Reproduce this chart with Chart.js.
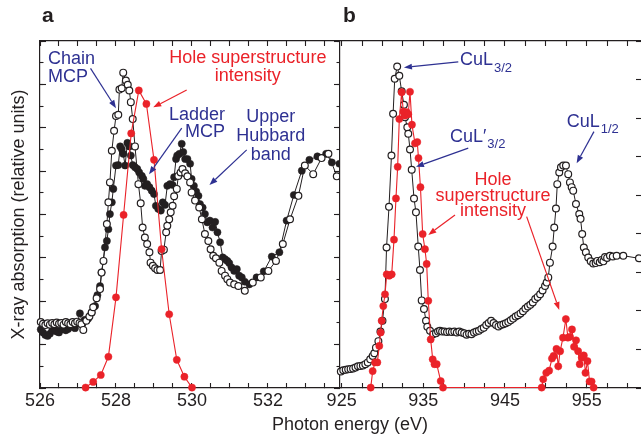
<!DOCTYPE html>
<html>
<head>
<meta charset="utf-8">
<script src="https://cdn.jsdelivr.net/npm/chart.js@4.4.0/dist/chart.umd.min.js"></script>
<style>
  html, body { margin: 0; padding: 0; background: #fff; }
  body { width: 641px; height: 435px; position: relative; overflow: hidden;
         font-family: "Liberation Sans", Arial, sans-serif; color: #231f20; }
  canvas { position: absolute; top: 0; }
  #chartA { left: 0; }
  #chartB { left: 300px; }
  .panel { position: absolute; top: 3px; font-weight: bold; font-size: 21px; }
  #xTitle { position: absolute; left: 272px; top: 414px; font-size: 18px; line-height: 20px; white-space: nowrap; }
</style>
</head>
<body>
<canvas id="chartA" width="340" height="435"></canvas>
<canvas id="chartB" width="341" height="435"></canvas>
<div class="panel" style="left:42px">a</div>
<div class="panel" style="left:343px">b</div>
<div id="xTitle">Photon energy (eV)</div>
<script>
const FONT = '"Liberation Sans", Arial, sans-serif';
const INK = "#231f20";
const RED = "#ea2229";
const BLUE = "#2e3192";

// panel a : O K-edge, open and filled circles, red hole intensity
const aTicks = [526, 528, 530, 532];
const aOpenE = [526.02, 526.08, 526.14, 526.20, 526.26, 526.32, 526.38, 526.44, 526.50, 526.56, 526.62, 526.68, 526.74, 526.80, 526.86, 526.92, 526.98, 527.04, 527.09, 527.14, 527.22, 527.30, 527.36, 527.40, 527.49, 527.58, 527.62, 527.67, 527.76, 527.80, 527.84, 527.89, 527.95, 528.00, 528.06, 528.09, 528.15, 528.19, 528.26, 528.31, 528.35, 528.39, 528.44, 528.50, 528.59, 528.65, 528.70, 528.76, 528.82, 528.88, 528.91, 528.97, 529.03, 529.09, 529.16, 529.20, 529.26, 529.32, 529.35, 529.40, 529.44, 529.49, 529.53, 529.60, 529.64, 529.70, 529.75, 529.82, 529.88, 529.95, 529.99, 530.08, 530.19, 530.26, 530.34, 530.43, 530.49, 530.56, 530.63, 530.72, 530.78, 530.87, 530.93, 531.00, 531.11, 531.22, 531.39, 531.60, 531.81, 532.01, 532.21, 532.39, 532.58, 532.80, 532.97, 533.19, 533.41, 533.59, 533.81];
const aOpenV = [1.02, 0.98, 0.95, 0.99, 0.96, 1.00, 0.97, 1.01, 0.98, 1.00, 0.96, 1.02, 0.99, 0.97, 1.02, 0.99, 1.03, 1.00, 0.97, 0.84, 1.05, 1.15, 1.24, 1.36, 1.57, 1.78, 2.16, 2.43, 3.28, 3.78, 4.24, 4.97, 5.43, 5.77, 5.80, 6.38, 6.41, 6.77, 6.59, 6.49, 6.36, 6.09, 5.70, 5.07, 4.20, 3.76, 3.20, 2.97, 2.82, 2.63, 2.39, 2.32, 2.26, 2.22, 2.22, 2.66, 2.69, 3.09, 3.24, 3.39, 3.55, 3.70, 3.92, 4.09, 4.39, 4.47, 4.55, 4.45, 4.38, 4.24, 4.01, 3.82, 3.66, 3.39, 3.05, 2.89, 2.70, 2.55, 2.49, 2.39, 2.20, 2.09, 2.01, 1.93, 1.89, 1.85, 1.74, 1.93, 2.05, 2.20, 2.43, 2.82, 3.39, 3.93, 4.63, 4.43, 4.80, 4.90, 4.38];
const aFillE = [526.02, 526.08, 526.14, 526.20, 526.26, 526.32, 526.38, 526.44, 526.50, 526.56, 526.62, 526.68, 526.74, 526.80, 526.86, 526.92, 526.98, 527.05, 527.12, 527.18, 527.27, 527.36, 527.45, 527.51, 527.58, 527.62, 527.71, 527.76, 527.80, 527.84, 527.89, 527.93, 528.00, 528.06, 528.11, 528.15, 528.19, 528.24, 528.30, 528.35, 528.39, 528.44, 528.50, 528.56, 528.61, 528.68, 528.72, 528.76, 528.82, 528.88, 528.94, 529.00, 529.05, 529.11, 529.18, 529.23, 529.29, 529.35, 529.42, 529.49, 529.53, 529.58, 529.61, 529.67, 529.73, 529.77, 529.82, 529.88, 529.95, 529.99, 530.05, 530.11, 530.17, 530.21, 530.28, 530.34, 530.40, 530.47, 530.54, 530.61, 530.67, 530.74, 530.81, 530.87, 530.93, 530.98, 531.04, 531.11, 531.18, 531.24, 531.31, 531.39, 531.51, 531.70, 531.89, 532.10, 532.30, 532.49, 532.68, 532.89, 533.09, 533.30, 533.53, 533.68, 533.88];
const aFillV = [0.85, 0.78, 0.72, 0.70, 0.75, 0.82, 0.86, 0.80, 0.78, 0.85, 0.88, 0.83, 0.86, 0.91, 0.93, 0.88, 1.00, 1.22, 0.98, 1.07, 1.10, 1.24, 1.39, 1.64, 1.85, 2.16, 2.74, 2.89, 3.16, 3.51, 3.78, 4.09, 4.63, 4.64, 5.07, 5.01, 4.90, 4.63, 5.15, 5.07, 4.86, 4.64, 4.59, 4.55, 4.47, 4.39, 4.32, 4.16, 4.20, 4.13, 4.05, 3.97, 3.70, 3.63, 3.59, 3.78, 3.72, 4.16, 4.20, 4.18, 4.36, 4.78, 4.86, 4.90, 5.13, 4.94, 4.78, 4.78, 4.67, 4.32, 4.16, 4.03, 3.93, 3.74, 3.66, 3.51, 3.32, 3.36, 3.20, 3.33, 3.09, 2.86, 2.51, 2.47, 2.43, 2.38, 2.28, 2.20, 2.24, 2.09, 2.05, 1.95, 1.89, 2.05, 2.19, 2.53, 2.63, 3.36, 3.95, 4.51, 4.76, 4.84, 4.90, 4.70, 4.67];
const aRedE = [527.2, 527.4, 527.6, 527.8, 528.0, 528.2, 528.4, 528.6, 528.8, 529.0, 529.2, 529.4, 529.6, 529.8, 530.0];
const aRedV = [-0.49, -0.36, -0.20, 0.22, 1.59, 3.49, 5.37, 6.36, 6.05, 4.76, 2.70, 1.20, 0.15, -0.24, -0.49];

// panel b : Cu L-edge
const bTicks = [925, 935, 945, 955];
const bOpenE = [924.9, 925.2, 925.5, 925.8, 926.1, 926.4, 926.7, 927.0, 927.3, 927.6, 927.9, 928.2, 928.5, 928.8, 929.0, 929.2, 929.5, 929.75, 930.0, 930.3, 930.5, 930.8, 931.1, 931.3, 931.5, 931.8, 932.06, 932.35, 932.63, 932.76, 933.04, 933.16, 933.37, 933.58, 933.86, 934.1, 934.38, 934.59, 934.8, 935.08, 935.33, 935.49, 935.82, 936.2, 936.55, 936.8, 937.04, 937.3, 937.6, 937.9, 938.2, 938.5, 938.8, 939.1, 939.4, 939.7, 940.0, 940.3, 940.6, 940.9, 941.2, 941.5, 941.8, 942.1, 942.4, 942.7, 943.0, 943.3, 943.6, 943.9, 944.2, 944.5, 944.8, 945.1, 945.4, 945.7, 946.0, 946.3, 946.6, 946.9, 947.2, 947.5, 947.8, 948.1, 948.4, 948.7, 949.0, 949.3, 949.6, 949.9, 950.1, 950.3, 950.5, 950.83, 951.03, 951.24, 951.4, 951.64, 951.85, 952.13, 952.46, 952.74, 952.95, 953.16, 953.35, 953.69, 954.09, 954.25, 954.45, 954.65, 954.9, 955.19, 955.49, 955.8, 956.1, 956.3, 956.6, 956.83, 957.05, 957.24, 957.5, 957.85, 958.2, 958.67, 959.48, 961.4];
const bOpenV = [-0.12, -0.09, -0.08, -0.07, -0.06, -0.05, -0.03, 0.00, 0.01, 0.02, 0.05, 0.09, 0.16, 0.24, 0.30, 0.43, 0.58, 0.80, 1.05, 1.55, 2.74, 3.68, 4.86, 5.82, 6.63, 6.91, 6.70, 6.34, 6.03, 5.74, 5.51, 5.36, 5.00, 4.53, 3.87, 3.55, 2.76, 2.22, 1.52, 1.32, 1.05, 0.91, 0.82, 0.74, 0.76, 0.80, 0.82, 0.80, 0.80, 0.79, 0.80, 0.79, 0.80, 0.78, 0.80, 0.78, 0.76, 0.73, 0.75, 0.74, 0.78, 0.80, 0.82, 0.86, 0.89, 0.95, 1.00, 1.05, 1.00, 0.95, 0.92, 0.95, 0.97, 0.99, 1.02, 1.06, 1.10, 1.15, 1.18, 1.22, 1.27, 1.33, 1.38, 1.42, 1.47, 1.55, 1.60, 1.66, 1.75, 1.85, 1.93, 2.05, 2.39, 2.76, 3.20, 3.64, 4.20, 4.47, 4.59, 4.63, 4.63, 4.43, 4.24, 4.13, 4.05, 3.74, 3.51, 3.40, 3.05, 2.74, 2.63, 2.51, 2.42, 2.37, 2.38, 2.43, 2.40, 2.45, 2.42, 2.52, 2.50, 2.55, 2.53, 2.55, 2.55, 2.49];
const bRedE = [928.56, 928.80, 929.09, 929.37, 929.61, 929.78, 929.90, 930.10, 930.31, 930.52, 930.83, 931.13, 931.41, 931.65, 931.86, 932.06, 932.35, 932.55, 932.76, 932.96, 933.16, 933.37, 933.61, 933.98, 934.26, 934.41, 934.65, 934.92, 935.20, 935.41, 935.61, 935.90, 936.15, 936.37, 936.64, 937.13, 937.41, 949.49, 949.68, 950.05, 950.40, 950.75, 950.95, 951.30, 951.52, 951.75, 952.10, 952.45, 952.70, 952.95, 953.20, 953.45, 953.70, 953.95, 954.15, 954.40, 954.65, 954.85, 955.10, 955.35, 955.60, 955.85];
const bRedV = [-0.49, -0.11, 0.09, 0.09, 0.47, 0.78, 1.05, 1.39, 1.66, 2.12, 2.09, 2.12, 2.92, 3.87, 4.60, 5.70, 6.32, 5.87, 5.78, 5.86, 5.81, 6.33, 5.57, 5.14, 5.17, 4.80, 4.13, 3.05, 2.70, 2.36, 1.51, 0.62, 0.16, 0.05, 0.05, -0.34, -0.49, -0.49, -0.30, -0.15, -0.10, 0.18, 0.24, 0.40, 0.00, 0.35, 0.66, 1.09, 0.66, 0.68, 0.85, 0.45, 0.60, 0.35, 0.05, 0.20, 0.25, -0.15, 0.12, -0.35, -0.35, -0.49];

// labels and arrows, placed in data units
const notesA = [
  { kind: "text", lines: ["Chain", "MCP"], at: [526.21, 6.98], align: "left", color: BLUE, lh: 18.3 },
  { kind: "arrow", from: [527.33, 6.87], to: [528.0, 5.95], color: BLUE },
  { kind: "text", lines: ["Hole superstructure", "intensity"], at: [531.47, 6.99], align: "center", color: RED, lh: 18 },
  { kind: "arrow", from: [529.86, 6.37], to: [528.98, 5.97], color: RED },
  { kind: "text", lines: ["Ladder", "MCP"], at: [530.87, 5.68], align: "right", color: BLUE, lh: 17 },
  { kind: "arrow", from: [529.73, 5.49], to: [528.87, 4.43], color: BLUE },
  { kind: "text", lines: ["Upper", "Hubbard", "band"], at: [532.07, 5.64], align: "center", color: BLUE, lh: 19 },
  { kind: "arrow", from: [531.44, 4.99], to: [530.46, 4.18], color: BLUE }
];
const notesB = [
  { kind: "sub", main: "CuL", sub: "3/2", at: [939.49, 6.94], color: BLUE },
  { kind: "arrow", from: [939.28, 7.02], to: [932.63, 6.89], color: BLUE },
  { kind: "sub", main: "CuL\u2032", sub: "3/2", at: [938.26, 5.18], color: BLUE },
  { kind: "arrow", from: [940.5, 5.03], to: [934.1, 4.60], color: BLUE },
  { kind: "text", lines: ["Hole", "superstructure", "intensity"], at: [943.53, 4.18], align: "center", color: RED, lh: 15.5 },
  { kind: "arrow", from: [938.88, 3.49], to: [935.61, 3.03], color: RED },
  { kind: "arrow", from: [947.65, 3.45], to: [951.64, 1.30], color: RED },
  { kind: "sub", main: "CuL", sub: "1/2", at: [952.55, 5.52], color: BLUE },
  { kind: "arrow", from: [955.89, 5.41], to: [953.77, 4.68], color: BLUE }
];

Chart.defaults.font.family = FONT;
Chart.defaults.font.size = 18;
Chart.defaults.color = INK;

function series(xs, ys) {
  return xs.map((x, i) => ({ x, y: ys[i] }));
}

function drawArrow(ctx, x1, y1, x2, y2) {
  const a = Math.atan2(y2 - y1, x2 - x1);
  const head = 8, half = 3;
  const bx = x2 - head * Math.cos(a), by = y2 - head * Math.sin(a);
  ctx.lineWidth = 1.2;
  ctx.beginPath();
  ctx.moveTo(x1, y1);
  ctx.lineTo(bx, by);
  ctx.stroke();
  ctx.beginPath();
  ctx.moveTo(x2, y2);
  ctx.lineTo(bx + half * Math.sin(a), by - half * Math.cos(a));
  ctx.lineTo(bx - half * Math.sin(a), by + half * Math.cos(a));
  ctx.closePath();
  ctx.fill();
}

function notesPlugin(items) {
  return {
    id: "notes",
    afterDatasetsDraw(chart) {
      const { ctx } = chart;
      const sx = chart.scales.x, sy = chart.scales.y;
      const px = p => [sx.getPixelForValue(p[0]), sy.getPixelForValue(p[1])];
      ctx.save();
      ctx.textBaseline = "alphabetic";
      items.forEach(it => {
        ctx.fillStyle = it.color;
        ctx.strokeStyle = it.color;
        if (it.kind === "arrow") {
          const [x1, y1] = px(it.from);
          const [x2, y2] = px(it.to);
          drawArrow(ctx, x1, y1, x2, y2);
        } else if (it.kind === "text") {
          const [x, y] = px(it.at);
          ctx.font = `18px ${FONT}`;
          ctx.textAlign = it.align;
          it.lines.forEach((t, i) => ctx.fillText(t, x, y + i * it.lh));
        } else {
          const [x, y] = px(it.at);
          ctx.font = `18px ${FONT}`;
          ctx.textAlign = "left";
          ctx.fillText(it.main, x, y);
          const w = ctx.measureText(it.main).width;
          ctx.font = `13px ${FONT}`;
          ctx.fillText(it.sub, x + w + 1, y + 6.5);
        }
      });
      ctx.restore();
    }
  };
}

// inward tick marks: negative tick length, size of the box fixed in afterFit
function axis(position, min, max, step, len, size, extra = {}) {
  const horizontal = position === "top" || position === "bottom";
  return {
    type: "linear",
    position, min, max,
    weight: extra.weight || 0,
    border: { display: extra.border !== false, color: INK, width: 1.2 },
    grid: { drawOnChartArea: false, drawTicks: len > 0, tickLength: -len, tickColor: INK, tickWidth: 1.1 },
    ticks: {
      stepSize: step,
      includeBounds: false,
      autoSkip: false,
      maxRotation: 0,
      display: !!extra.labels,
      padding: 7,
      color: INK,
      font: { size: 18 },
      callback: v => (extra.labels && extra.labels.includes(v) ? String(v) : "")
    },
    title: extra.title || { display: false },
    afterFit: s => { if (horizontal) s.height = size; else s.width = size; }
  };
}

const baseOptions = {
  responsive: false,
  animation: false,
  events: [],
  layout: { padding: 0, autoPadding: false },
  plugins: { legend: { display: false }, tooltip: { enabled: false } },
  elements: { line: { tension: 0 } }
};

new Chart(document.getElementById("chartA"), {
  type: "line",
  data: {
    datasets: [
      {
        data: series(aRedE, aRedV), order: 0, clip: false,
        borderColor: RED, borderWidth: 1.1,
        pointRadius: 3.6, pointBackgroundColor: RED, pointBorderColor: RED, pointBorderWidth: 0.5
      },
      {
        data: series(aOpenE, aOpenV), order: 1, clip: false,
        borderColor: INK, borderWidth: 1,
        pointRadius: 3.4, pointBackgroundColor: "#fff", pointBorderColor: INK, pointBorderWidth: 1.2
      },
      {
        data: series(aFillE, aFillV), order: 2, clip: false,
        borderColor: INK, borderWidth: 1,
        pointRadius: 3.6, pointBackgroundColor: INK, pointBorderColor: INK, pointBorderWidth: 0.5
      }
    ]
  },
  options: {
    ...baseOptions,
    scales: {
      x: axis("bottom", 526, 533.895, 0.5, 5, 47, { labels: aTicks }),
      xTop: axis("top", 526, 533.895, 0.5, 5, 41),
      y: axis("left", -0.5, 7.5, 1, 6, 40, {
        weight: 2,
        title: { display: true, text: "X-ray absorption (relative units)", color: INK, font: { size: 18 }, padding: { top: 8, bottom: 0 } }
      }),
      yMinor: axis("left", -0.5, 7.5, 0.5, 3.5, 0, { weight: 1, border: false }),
      yR: axis("right", -0.5, 7.5, 1, 6, 0, { border: false }),
      yRMinor: axis("right", -0.5, 7.5, 0.5, 3.5, 0, { border: false })
    }
  },
  plugins: [notesPlugin(notesA)]
});

new Chart(document.getElementById("chartB"), {
  type: "line",
  data: {
    datasets: [
      {
        data: series(bRedE, bRedV), order: 0, clip: false,
        borderColor: RED, borderWidth: 1.1,
        pointRadius: 3.6, pointBackgroundColor: RED, pointBorderColor: RED, pointBorderWidth: 0.5
      },
      {
        data: series(bOpenE, bOpenV), order: 1, clip: false,
        borderColor: INK, borderWidth: 1,
        pointRadius: 3.4, pointBackgroundColor: "#fff", pointBorderColor: INK, pointBorderWidth: 1.2
      }
    ]
  },
  options: {
    ...baseOptions,
    scales: {
      x: axis("bottom", 924.8, 961.65, 2.5, 5, 47, { labels: bTicks }),
      xTop: axis("top", 924.8, 961.65, 2.5, 5, 41),
      y: axis("left", -0.5, 7.5, 1, 0, 40),
      yR: axis("right", 0, 9, 1, 5, 0, { border: false })
    }
  },
  plugins: [notesPlugin(notesB)]
});
</script>
</body>
</html>
